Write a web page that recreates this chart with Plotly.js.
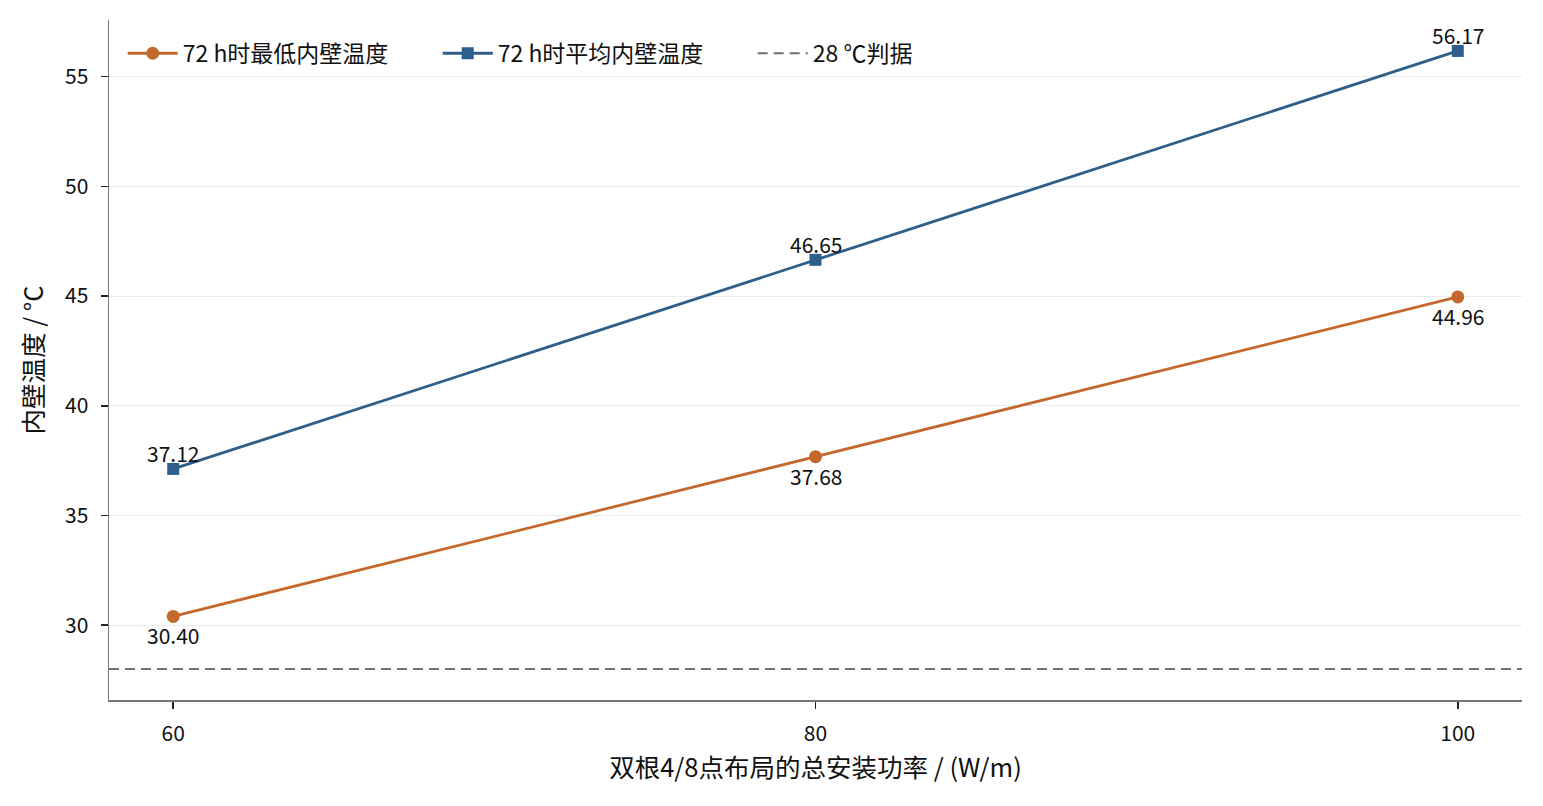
<!DOCTYPE html>
<html>
<head>
<meta charset="utf-8">
<script src="https://cdn.plot.ly/plotly-3.0.1.min.js"></script>
<style>html,body{margin:0;padding:0;background:#fff;}#chart{width:1543px;height:806px;}</style>
</head>
<body>
<div id="chart"></div>
<script>
const powers = [60, 80, 100];
const minTemp = [30.40, 37.68, 44.96];
const avgTemp = [37.12, 46.65, 56.17];
const threshold = 28;
const seriesNames = ['72 h时最低内壁温度', '72 h时平均内壁温度', '28 ℃判据'];
const xTitle = '双根4/8点布局的总安装功率 / (W/m)';
const yTitle = '内壁温度 / °C';
const yTicks = [30, 35, 40, 45, 50, 55];

const font = 'Noto Sans CJK SC, Noto Sans, sans-serif';
const orange = '#C4692E';
const blue = '#2E5E8A';
const gray = '#6B7280';

const traces = [
  {
    x: powers, y: minTemp, name: seriesNames[0], type: 'scatter', mode: 'lines+markers',
    line: {color: orange, width: 2.8}, marker: {color: orange, size: 13, symbol: 'circle'}
  },
  {
    x: powers, y: avgTemp, name: seriesNames[1], type: 'scatter', mode: 'lines+markers',
    line: {color: blue, width: 2.8}, marker: {color: blue, size: 12, symbol: 'square'}
  },
  {
    x: [58, 102], y: [threshold, threshold], name: seriesNames[2], type: 'scatter', mode: 'lines',
    line: {color: gray, width: 2, dash: '10px,6px'}
  }
];

const labelFont = {family: font, size: 21, color: '#111'};
const annotations = [];
powers.forEach((p, i) => {
  annotations.push({x: p, y: avgTemp[i], xref: 'x', yref: 'y', text: avgTemp[i].toFixed(2),
    showarrow: false, xanchor: 'center', yanchor: 'middle', yshift: 16, font: labelFont});
  annotations.push({x: p, y: minTemp[i], xref: 'x', yref: 'y', text: minTemp[i].toFixed(2),
    showarrow: false, xanchor: 'center', yanchor: 'middle', yshift: -19, font: labelFont});
});

const layout = {
  width: 1543, height: 806,
  margin: {l: 109, r: 21, t: 20, b: 106},
  paper_bgcolor: '#fff', plot_bgcolor: '#fff',
  font: {family: font, size: 20, color: '#111'},
  showlegend: true,
  annotations: annotations,
  legend: {
    orientation: 'h', x: 0.0097, y: 0.951, xanchor: 'left', yanchor: 'middle',
    bgcolor: 'rgba(0,0,0,0)', font: {family: font, size: 23, color: '#111'},
    itemwidth: 50, entrywidth: 250, entrywidthmode: 'pixels', tracegroupgap: 0
  },
  xaxis: {
    range: [58, 102], tickvals: powers, ticktext: powers.map(String),
    showgrid: false, zeroline: false,
    showline: true, linecolor: '#777', linewidth: 1.5, mirror: false,
    ticks: 'outside', ticklen: 7, tickwidth: 1.5, tickcolor: '#222',
    ticklabelstandoff: 7,
    tickfont: {family: font, size: 21, color: '#111'},
    title: {text: xTitle, font: {family: font, size: 25.5, color: '#111'}, standoff: 13}
  },
  yaxis: {
    range: [26.59, 57.58], tickvals: yTicks,
    showgrid: true, gridcolor: '#ebebef', gridwidth: 1, zeroline: false,
    showline: true, linecolor: '#777', linewidth: 1.5, mirror: false,
    ticks: 'outside', ticklen: 7, tickwidth: 1.5, tickcolor: '#222',
    ticklabelstandoff: 8,
    tickfont: {family: font, size: 21, color: '#111'},
    title: {text: yTitle, font: {family: font, size: 25.5, color: '#111'}, standoff: 14}
  }
};

Plotly.newPlot('chart', traces, layout, {displayModeBar: false, staticPlot: true});
</script>
</body>
</html>
